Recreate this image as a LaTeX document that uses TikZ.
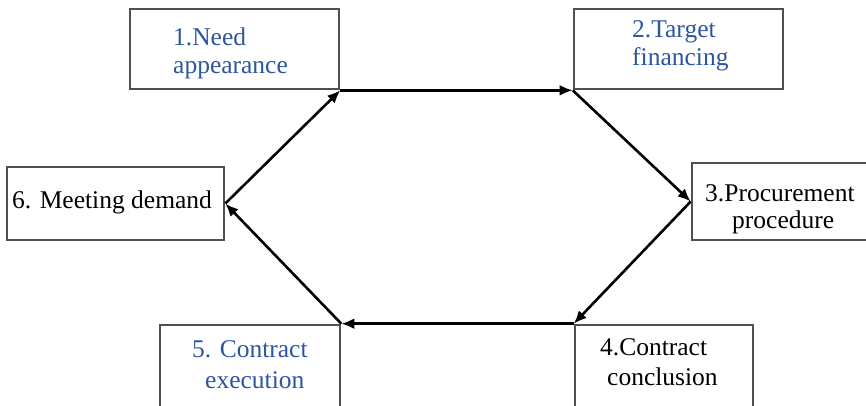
\documentclass[tikz,border=0pt]{standalone}
\usepackage{fontspec}
\setmainfont{Liberation Serif}
\usetikzlibrary{arrows.meta}
\definecolor{txtblue}{RGB}{45,85,160}
\definecolor{boxgray}{RGB}{80,80,80}
\begin{document}
\begin{tikzpicture}[x=1pt,y=-1pt,
  boxnode/.style={draw=boxgray,line width=2.6pt,fill=white,rectangle,inner sep=0pt},
  lbl/.style={anchor=base west,inner sep=0pt,font=\fontsize{25.5}{28}\selectfont},
  conn/.style={draw=black,line width=2.6pt,-{Latex[length=13pt,width=11pt]}}]
\useasboundingbox[fill=white] (0,0) rectangle (866,405);
% boxes
\node[boxnode,minimum width=209pt,minimum height=80pt] (b1) at (234.5,49) {};
\node[boxnode,minimum width=209pt,minimum height=80pt] (b2) at (678.5,49) {};
\node[boxnode,minimum width=217pt,minimum height=73pt] (b6) at (115.5,203.5) {};
\node[boxnode,minimum width=190pt,minimum height=77pt] (b3) at (787,201.5) {};
\node[boxnode,minimum width=180pt,minimum height=90pt] (b5) at (250,370) {};
\node[boxnode,minimum width=178pt,minimum height=90pt] (b4) at (664,370) {};
% texts
\node[lbl,text=txtblue] (t1a) at (173,45) {1.Need};
\node[lbl,text=txtblue] (t1b) at (173,73) {appearance};
\node[lbl,text=txtblue] (t2a) at (632,37) {2.Target};
\node[lbl,text=txtblue] (t2b) at (632,65) {financing};
\node[lbl,text=black] (t6a) at (12,208) {6. Meeting demand};
\node[lbl,text=black] (t3a) at (705,201) {3.Procurement};
\node[lbl,text=black] (t3b) at (732,228) {procedure};
\node[lbl,text=txtblue] (t5a) at (192,357) {5. Contract};
\node[lbl,text=txtblue] (t5b) at (205,388) {execution};
\node[lbl,text=black] (t4a) at (600,355) {4.Contract};
\node[lbl,text=black] (t4b) at (607,385) {conclusion};
% connectors
\draw[conn] (b1.south east) -- (b2.south west);
\draw[conn] (b2.south west) -- (b3.west);
\draw[conn] (b3.west) -- (b4.north west);
\draw[conn] (b4.north west) -- (b5.north east);
\draw[conn] (b5.north east) -- (b6.east);
\draw[conn] (b6.east) -- (b1.south east);
\end{tikzpicture}
\end{document}
